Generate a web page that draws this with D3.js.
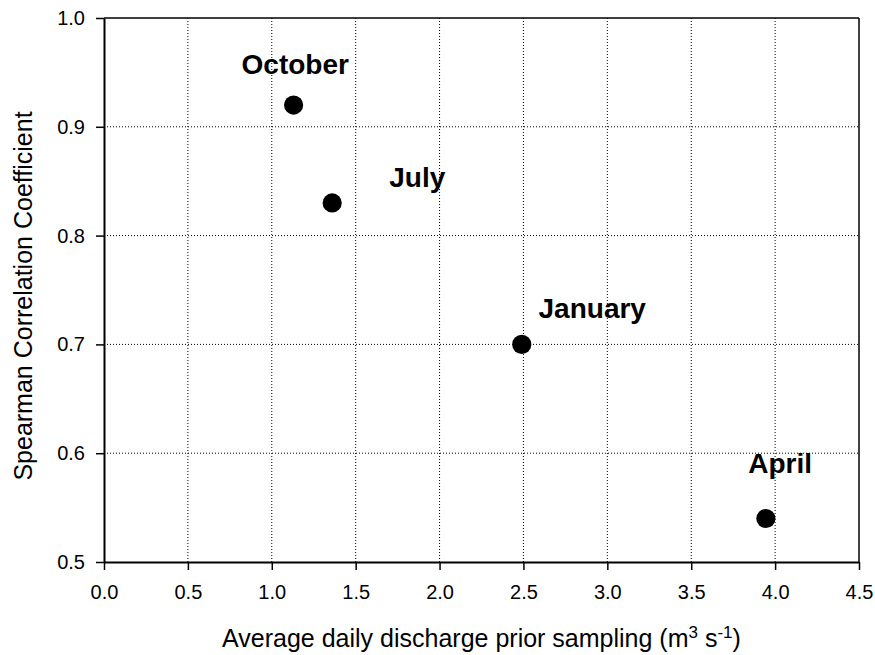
<!DOCTYPE html>
<html>
<head>
<meta charset="utf-8">
<script src="https://cdn.jsdelivr.net/npm/d3@7"></script>
<style>
  html, body { margin: 0; padding: 0; background: #fff; }
  svg { display: block; font-family: Arial, "Liberation Sans", sans-serif; }
</style>
</head>
<body>
<svg id="chart" width="875" height="655"></svg>
<script>
// Data
const months = ["October", "July", "January", "April"];
const discharge = [1.13, 1.36, 2.49, 3.945];
const spearman = [0.92, 0.83, 0.70, 0.54];
const xTicks = [0, 0.5, 1.0, 1.5, 2.0, 2.5, 3.0, 3.5, 4.0, 4.5];
const yTicks = [0.5, 0.6, 0.7, 0.8, 0.9, 1.0];
// label anchors in data units (where each month name is written)
const labelX = [0.82, 1.70, 2.59, 3.84];
const labelY = [0.9485, 0.8445, 0.724, 0.5818];

const svg = d3.select("#chart");
const mLeft = 104, mRight = 859, mTop = 18, mBottom = 562;

const x = d3.scaleLinear().domain([0, 4.5]).range([mLeft, mRight]);
const y = d3.scaleLinear().domain([0.5, 1.0]).range([mBottom, mTop]);

// Grid (dotted)
const grid = svg.append("g");
grid.selectAll("line.vx").data(xTicks.slice(1, -1)).join("line")
  .attr("x1", d => x(d)).attr("x2", d => x(d))
  .attr("y1", mTop).attr("y2", mBottom)
  .attr("stroke", "#000").attr("stroke-width", 1).attr("stroke-dasharray", "1,2");
grid.selectAll("line.hy").data(yTicks.slice(1, -1)).join("line")
  .attr("x1", mLeft).attr("x2", mRight)
  .attr("y1", d => y(d)).attr("y2", d => y(d))
  .attr("stroke", "#000").attr("stroke-width", 1).attr("stroke-dasharray", "1,2");

// Frame top & right
svg.append("line").attr("x1", mLeft).attr("x2", mRight).attr("y1", mTop).attr("y2", mTop)
  .attr("stroke", "#000").attr("stroke-width", 1.5);
svg.append("line").attr("x1", mRight).attr("x2", mRight).attr("y1", mTop).attr("y2", mBottom)
  .attr("stroke", "#000").attr("stroke-width", 1.5);

// Axes
const xAxis = d3.axisBottom(x).tickValues(xTicks).tickFormat(d3.format(".1f"))
  .tickSize(8).tickPadding(15).tickSizeOuter(0);
const yAxis = d3.axisLeft(y).tickValues(yTicks).tickFormat(d3.format(".1f"))
  .tickSize(8).tickPadding(11).tickSizeOuter(0);

const gx = svg.append("g").attr("transform", `translate(0,${mBottom})`).call(xAxis);
const gy = svg.append("g").attr("transform", `translate(${mLeft},0)`).call(yAxis);
[gx, gy].forEach(g => {
  g.select(".domain").attr("stroke", "#000").attr("stroke-width", 2);
  g.selectAll(".tick line").attr("stroke", "#000").attr("stroke-width", 1.5);
  g.selectAll(".tick text").attr("fill", "#000")
    .style("font-size", "20px").style("font-family", "Arial, 'Liberation Sans', sans-serif");
});

// Points
svg.append("g").selectAll("circle").data(months).join("circle")
  .attr("cx", (d, i) => x(discharge[i]))
  .attr("cy", (d, i) => y(spearman[i]))
  .attr("r", 9.6)
  .attr("fill", "#000");

// Month labels
svg.append("g").selectAll("text").data(months).join("text")
  .attr("x", (d, i) => x(labelX[i]))
  .attr("y", (d, i) => y(labelY[i]))
  .attr("font-size", 28).attr("font-weight", "bold").attr("fill", "#000")
  .text(d => d);

// X axis title
const xt = svg.append("text")
  .attr("x", (mLeft + mRight) / 2).attr("y", 647)
  .attr("text-anchor", "middle").attr("font-size", 25).attr("fill", "#000");
xt.append("tspan").text("Average daily discharge prior sampling (m");
xt.append("tspan").attr("dy", -9).attr("font-size", 17).text("3");
xt.append("tspan").attr("dy", 9).text(" s");
xt.append("tspan").attr("dy", -9).attr("font-size", 17).text("-1");
xt.append("tspan").attr("dy", 9).text(")");

// Y axis title
svg.append("text")
  .attr("transform", `translate(32,${(mTop + mBottom) / 2 + 6}) rotate(-90)`)
  .attr("text-anchor", "middle").attr("font-size", 25).attr("fill", "#000")
  .text("Spearman Correlation Coefficient");
</script>
</body>
</html>
